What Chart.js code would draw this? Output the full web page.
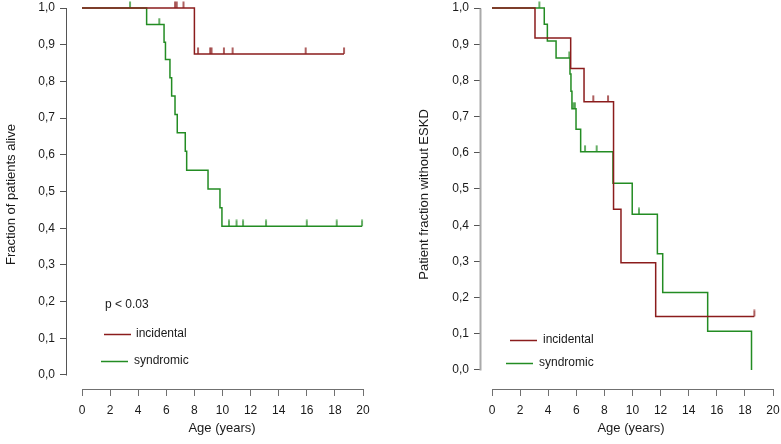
<!DOCTYPE html>
<html><head><meta charset="utf-8">
<script src="https://cdn.jsdelivr.net/npm/chart.js@4.4.1/dist/chart.umd.min.js"></script>
<style>
html,body{margin:0;padding:0;background:#fff;}
#wrap{position:relative;width:781px;height:444px;overflow:hidden;background:#fff;}
canvas{position:absolute;top:0;}
</style></head><body>
<div id="wrap">
<canvas id="left" width="377" height="444" style="left:0px"></canvas>
<canvas id="right" width="368" height="444" style="left:413px"></canvas>
</div>
<script>
// ---------- tick labels ----------
const xTicks = [0, 2, 4, 6, 8, 10, 12, 14, 16, 18, 20];
const yTicks = [0, 0.1, 0.2, 0.3, 0.4, 0.5, 0.6, 0.7, 0.8, 0.9, 1.0];
const seriesNames = ['incidental', 'syndromic'];

// ---------- left panel: fraction of patients alive ----------
const aliveIncTimes  = [0, 8.0, 18.65];
const aliveIncSurv   = [1.0, 0.875, 0.875];
const aliveIncCensor = [6.62, 6.74, 7.22, 8.26, 9.12, 9.22, 10.1, 10.72, 15.92, 18.65];

const aliveSynTimes  = [0, 4.6, 5.84, 5.94, 6.26, 6.38, 6.62, 6.78, 7.35, 7.45, 8.97, 9.82, 9.96, 19.93];
const aliveSynSurv   = [1.0, 0.955, 0.907, 0.86, 0.81, 0.76, 0.71, 0.66, 0.61, 0.558, 0.507, 0.456, 0.405, 0.405];
const aliveSynCensor = [3.42, 5.5, 10.46, 11.0, 11.46, 13.1, 16.0, 18.13, 19.93];

// ---------- right panel: patient fraction without ESKD ----------
const eskdIncTimes  = [0, 3.06, 5.6, 6.55, 8.65, 9.18, 11.65, 18.67];
const eskdIncSurv   = [1.0, 0.917, 0.833, 0.741, 0.444, 0.296, 0.148, 0.148];
const eskdIncCensor = [7.21, 8.26, 18.67];

const eskdSynTimes  = [0, 3.72, 3.94, 4.56, 5.55, 5.62, 5.69, 5.98, 6.31, 8.61, 9.98, 11.77, 12.15, 15.35, 18.47];
const eskdSynSurv   = [1.0, 0.955, 0.909, 0.862, 0.818, 0.77, 0.722, 0.665, 0.603, 0.516, 0.43, 0.321, 0.214, 0.107, 0.0];
const eskdSynCensor = [3.37, 5.5, 5.79, 5.9, 6.62, 7.45, 10.46];

const pText = 'p < 0.03';

// ---------- styling ----------
const RED = '#8b1c1c';
const GREEN = '#238c23';
const FONT = '"Liberation Sans", Arial, "DejaVu Sans", sans-serif';
Chart.defaults.font.family = FONT;
Chart.defaults.color = '#1a1a1a';

function pts(times, vals) { return times.map((t, i) => ({x: t, y: vals[i]})); }
function stepAt(times, vals, t) {
  let v = vals[0];
  for (let i = 0; i < times.length; i++) { if (times[i] <= t + 1e-9) v = vals[i]; }
  return v;
}
function censorPts(ct, times, vals) { return ct.map(t => ({x: t, y: stepAt(times, vals, t)})); }

function tickImg(color) {
  const c = document.createElement('canvas');
  c.width = 4; c.height = 14;
  const g = c.getContext('2d');
  g.strokeStyle = color; g.lineWidth = 1.4;
  g.beginPath(); g.moveTo(2, 0.5); g.lineTo(2, 7); g.stroke();
  return c;
}
const redTick = tickImg(RED), greenTick = tickImg(GREEN);

const axisLines = {
  id: 'axisLines',
  afterDraw(chart, args, opts) {
    const {ctx, chartArea, scales} = chart;
    const xs = scales.x, ys = scales.y;
    ctx.save();
    ctx.lineCap = 'butt';
    ctx.strokeStyle = opts.yColor; ctx.lineWidth = opts.yWidth;
    const ax = Math.round(chartArea.left) - 0.5;
    ctx.beginPath();
    ctx.moveTo(ax, Math.round(ys.getPixelForValue(0)) + 0.5);
    ctx.lineTo(ax, Math.round(ys.getPixelForValue(1)) + 0.5);
    ctx.stroke();
    ctx.strokeStyle = opts.xColor; ctx.lineWidth = 1;
    const ay = Math.round(chartArea.bottom) + 0.5;
    ctx.beginPath();
    ctx.moveTo(Math.round(xs.getPixelForValue(0)) + 0.5, ay);
    ctx.lineTo(Math.round(xs.getPixelForValue(20)) + 0.5, ay);
    ctx.stroke();
    ctx.restore();
  }
};

const legendBox = {
  id: 'legendBox',
  afterDatasetsDraw(chart, args, opts) {
    const ctx = chart.ctx;
    ctx.save();
    ctx.font = '12px ' + FONT;
    ctx.fillStyle = '#1a1a1a';
    ctx.textBaseline = 'middle';
    ctx.textAlign = 'left';
    if (opts.p) ctx.fillText(opts.p.text, opts.p.x, opts.p.y);
    opts.items.forEach(it => {
      ctx.strokeStyle = it.color; ctx.lineWidth = 1.5;
      ctx.beginPath(); ctx.moveTo(it.x0, it.y + 0.5); ctx.lineTo(it.x1, it.y + 0.5); ctx.stroke();
      ctx.fillText(it.label, it.tx, it.y);
    });
    ctx.restore();
  }
};

function makeChart(id, cfg) {
  const lineDs = (label, data, color) => ({
    label, data, borderColor: color, borderWidth: 1.5, stepped: true,
    pointRadius: 0, pointHoverRadius: 0, fill: false, tension: 0
  });
  const censDs = (data, img) => ({
    type: 'scatter', data, pointStyle: img, pointRadius: 3, pointHoverRadius: 3, showLine: false,
    borderColor: 'transparent', backgroundColor: 'transparent'
  });
  return new Chart(document.getElementById(id), {
    type: 'line',
    data: {
      datasets: [
        lineDs(seriesNames[0], pts(cfg.incT, cfg.incS), RED),
        censDs(censorPts(cfg.incC, cfg.incT, cfg.incS), redTick),
        lineDs(seriesNames[1], pts(cfg.synT, cfg.synS), GREEN),
        censDs(censorPts(cfg.synC, cfg.synT, cfg.synS), greenTick)
      ]
    },
    options: {
      responsive: false, animation: false, devicePixelRatio: 1,
      events: [],
      layout: {padding: 0, autoPadding: false},
      plugins: {
        legend: {display: false}, tooltip: {enabled: false},
        axisLines: {yColor: cfg.yAxisColor, yWidth: cfg.yAxisWidth, xColor: '#707070'},
        legendBox: cfg.legend
      },
      scales: {
        x: {
          type: 'linear', min: cfg.xmin, max: cfg.xmax,
          border: {display: false},
          grid: {drawOnChartArea: false, drawTicks: true, tickLength: 7, tickColor: '#707070', tickWidth: 1},
          ticks: {autoSkip: false, maxRotation: 0, padding: 7, font: {size: 12}, color: '#1a1a1a',
                  callback: v => String(v)},
          afterBuildTicks: s => { s.ticks = xTicks.map(v => ({value: v})); },
          afterFit: s => { s.height = 55; s.paddingLeft = 0; s.paddingRight = 0; },
          title: {display: true, text: 'Age (years)', font: {size: 13}, color: '#1a1a1a',
                  padding: {top: 0, bottom: 8}}
        },
        y: {
          type: 'linear', min: cfg.ymin, max: cfg.ymax,
          border: {display: false},
          grid: {drawOnChartArea: false, drawTicks: true, tickLength: 7, tickColor: '#555555', tickWidth: 1},
          ticks: {autoSkip: false, padding: 5, font: {size: 12}, color: '#1a1a1a',
                  callback: v => v.toFixed(1).replace('.', ',')},
          afterBuildTicks: s => { s.ticks = yTicks.map(v => ({value: v})); },
          afterFit: s => { s.width = cfg.yWidth; s.paddingTop = 0; s.paddingBottom = 0; },
          title: {display: true, text: cfg.yTitle, font: {size: 13}, color: '#1a1a1a',
                  padding: {top: 4, bottom: 0}}
        }
      }
    },
    plugins: [axisLines, legendBox]
  });
}

makeChart('left', {
  incT: aliveIncTimes, incS: aliveIncSurv, incC: aliveIncCensor,
  synT: aliveSynTimes, synS: aliveSynSurv, synC: aliveSynCensor,
  xmin: -1.0676, xmax: 20.996, ymin: -0.03815, ymax: 1.0218, yWidth: 67,
  yTitle: 'Fraction of patients alive', yAxisColor: '#555555', yAxisWidth: 1,
  legend: {
    p: {text: pText, x: 105, y: 305},
    items: [
      {label: seriesNames[0], color: RED, x0: 104, x1: 131, y: 334, tx: 136},
      {label: seriesNames[1], color: GREEN, x0: 101, x1: 128, y: 361, tx: 134}
    ]
  }
});

makeChart('right', {
  incT: eskdIncTimes, incS: eskdIncSurv, incC: eskdIncCensor,
  synT: eskdSynTimes, synS: eskdSynSurv, synC: eskdSynCensor,
  xmin: -0.783, xmax: 20.569, ymin: -0.0525, ymax: 1.0221, yWidth: 68,
  yTitle: 'Patient fraction without ESKD', yAxisColor: '#aaaaaa', yAxisWidth: 2,
  legend: {
    items: [
      {label: seriesNames[0], color: RED, x0: 510 - 413, x1: 537 - 413, y: 340, tx: 543 - 413},
      {label: seriesNames[1], color: GREEN, x0: 506 - 413, x1: 533 - 413, y: 363, tx: 539 - 413}
    ]
  }
});
</script>
</body></html>
